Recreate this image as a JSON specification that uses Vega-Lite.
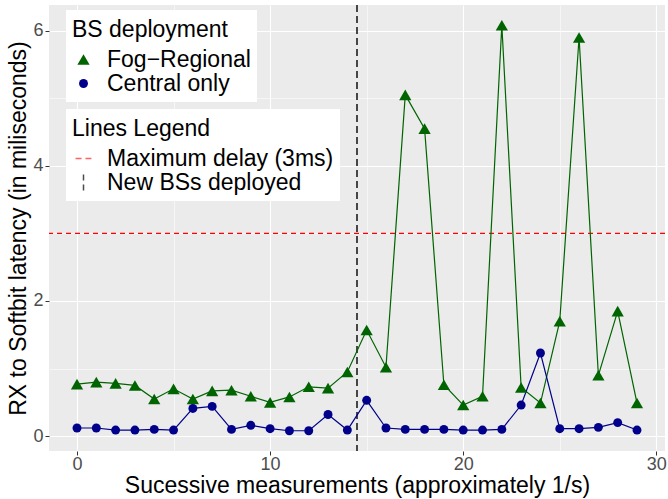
{
  "$schema": "https://vega.github.io/schema/vega-lite/v6.json",
  "width": 616,
  "height": 446,
  "autosize": {"type": "none"},
  "padding": {"left": 49, "top": 5, "right": 3, "bottom": 48},
  "background": "white",
  "config": {
    "view": {"fill": "#EBEBEB", "stroke": null},
    "font": "Liberation Sans",
    "axis": {
      "domain": false,
      "gridColor": "white",
      "tickColor": "#333333",
      "tickSize": 4,
      "labelColor": "#4D4D4D",
      "labelFontSize": 18,
      "labelFont": "Liberation Sans",
      "titleFont": "Liberation Sans",
      "titleFontSize": 23,
      "titleFontWeight": "normal",
      "titleColor": "black"
    },
    "legend": {
      "titleFont": "Liberation Sans",
      "labelFont": "Liberation Sans",
      "titleFontSize": 23,
      "labelFontSize": 23,
      "titleFontWeight": "normal",
      "titleColor": "black",
      "labelColor": "black",
      "fillColor": "white",
      "padding": 6,
      "titlePadding": 9,
      "titleBaseline": "line-top",
      "titleLineHeight": 29,
      "rowPadding": -6,
      "labelOffset": 12,
      "labelLimit": 500,
      "titleLimit": 500
    }
  },
  "datasets": {
    "series": [
      {"x": 0, "y": 0.77, "series": "Fog−Regional"},
      {"x": 1, "y": 0.8, "series": "Fog−Regional"},
      {"x": 2, "y": 0.78, "series": "Fog−Regional"},
      {"x": 3, "y": 0.75, "series": "Fog−Regional"},
      {"x": 4, "y": 0.55, "series": "Fog−Regional"},
      {"x": 5, "y": 0.7, "series": "Fog−Regional"},
      {"x": 6, "y": 0.55, "series": "Fog−Regional"},
      {"x": 7, "y": 0.67, "series": "Fog−Regional"},
      {"x": 8, "y": 0.68, "series": "Fog−Regional"},
      {"x": 9, "y": 0.59, "series": "Fog−Regional"},
      {"x": 10, "y": 0.5, "series": "Fog−Regional"},
      {"x": 11, "y": 0.58, "series": "Fog−Regional"},
      {"x": 12, "y": 0.73, "series": "Fog−Regional"},
      {"x": 13, "y": 0.71, "series": "Fog−Regional"},
      {"x": 14, "y": 0.95, "series": "Fog−Regional"},
      {"x": 15, "y": 1.57, "series": "Fog−Regional"},
      {"x": 16, "y": 1.02, "series": "Fog−Regional"},
      {"x": 17, "y": 5.05, "series": "Fog−Regional"},
      {"x": 18, "y": 4.55, "series": "Fog−Regional"},
      {"x": 19, "y": 0.76, "series": "Fog−Regional"},
      {"x": 20, "y": 0.46, "series": "Fog−Regional"},
      {"x": 21, "y": 0.59, "series": "Fog−Regional"},
      {"x": 22, "y": 6.08, "series": "Fog−Regional"},
      {"x": 23, "y": 0.72, "series": "Fog−Regional"},
      {"x": 24, "y": 0.49, "series": "Fog−Regional"},
      {"x": 25, "y": 1.7, "series": "Fog−Regional"},
      {"x": 26, "y": 5.9, "series": "Fog−Regional"},
      {"x": 27, "y": 0.9, "series": "Fog−Regional"},
      {"x": 28, "y": 1.85, "series": "Fog−Regional"},
      {"x": 29, "y": 0.49, "series": "Fog−Regional"},
      {"x": 0, "y": 0.12, "series": "Central only"},
      {"x": 1, "y": 0.12, "series": "Central only"},
      {"x": 2, "y": 0.09, "series": "Central only"},
      {"x": 3, "y": 0.09, "series": "Central only"},
      {"x": 4, "y": 0.1, "series": "Central only"},
      {"x": 5, "y": 0.09, "series": "Central only"},
      {"x": 6, "y": 0.41, "series": "Central only"},
      {"x": 7, "y": 0.44, "series": "Central only"},
      {"x": 8, "y": 0.1, "series": "Central only"},
      {"x": 9, "y": 0.16, "series": "Central only"},
      {"x": 10, "y": 0.11, "series": "Central only"},
      {"x": 11, "y": 0.08, "series": "Central only"},
      {"x": 12, "y": 0.08, "series": "Central only"},
      {"x": 13, "y": 0.32, "series": "Central only"},
      {"x": 14, "y": 0.09, "series": "Central only"},
      {"x": 15, "y": 0.53, "series": "Central only"},
      {"x": 16, "y": 0.12, "series": "Central only"},
      {"x": 17, "y": 0.1, "series": "Central only"},
      {"x": 18, "y": 0.1, "series": "Central only"},
      {"x": 19, "y": 0.1, "series": "Central only"},
      {"x": 20, "y": 0.09, "series": "Central only"},
      {"x": 21, "y": 0.09, "series": "Central only"},
      {"x": 22, "y": 0.1, "series": "Central only"},
      {"x": 23, "y": 0.46, "series": "Central only"},
      {"x": 24, "y": 1.23, "series": "Central only"},
      {"x": 25, "y": 0.11, "series": "Central only"},
      {"x": 26, "y": 0.11, "series": "Central only"},
      {"x": 27, "y": 0.13, "series": "Central only"},
      {"x": 28, "y": 0.2, "series": "Central only"},
      {"x": 29, "y": 0.09, "series": "Central only"}
    ],
    "hline": [{"label": "Maximum delay (3ms)", "value": 3}],
    "vline": [{"label": "New BSs deployed", "value": 14.5}],
    "lineslegend": [
      {"label": "Maximum delay (3ms)", "x": null, "y": null},
      {"label": "New BSs deployed", "x": null, "y": null}
    ]
  },
  "resolve": {"scale": {"shape": "independent", "color": "independent", "size": "independent"}},
  "layer": [
    {
      "data": {"name": "hline"},
      "mark": {"type": "rule", "color": "#FF0000", "strokeWidth": 1.2, "strokeDash": [5, 4]},
      "encoding": {
        "y": {"field": "value", "type": "quantitative", "scale": {"domain": [-0.22, 6.38], "nice": false, "zero": false}}
      }
    },
    {
      "data": {"name": "vline"},
      "mark": {"type": "rule", "color": "black", "strokeWidth": 1.4, "strokeDash": [7, 4]},
      "encoding": {
        "x": {"field": "value", "type": "quantitative", "scale": {"domain": [-1.45, 30.45], "nice": false, "zero": false}}
      }
    },
    {
      "data": {"name": "series"},
      "mark": {"type": "line", "strokeWidth": 1.2},
      "encoding": {
        "x": {
          "field": "x", "type": "quantitative",
          "scale": {"domain": [-1.45, 30.45], "nice": false, "zero": false},
          "title": "Sucessive measurements (approximately 1/s)",
          "axis": {
            "values": [0, 5, 10, 15, 20, 25, 30],
            "format": "d",
            "labelExpr": "datum.value % 10 === 0 ? datum.label : ''",
            "gridWidth": {"condition": {"test": "datum.value % 10 === 0", "value": 1.1}, "value": 0.55},
            "tickOpacity": {"condition": {"test": "datum.value % 10 === 0", "value": 1}, "value": 0},
            "labelPadding": 0,
            "titlePadding": 1
          }
        },
        "y": {
          "field": "y", "type": "quantitative",
          "scale": {"domain": [-0.22, 6.38], "nice": false, "zero": false},
          "title": "RX to Softbit latency (in miliseconds)",
          "axis": {
            "values": [0, 1, 2, 3, 4, 5, 6],
            "format": "d",
            "labelExpr": "datum.value % 2 === 0 ? datum.label : ''",
            "gridWidth": {"condition": {"test": "datum.value % 2 === 0", "value": 1.1}, "value": 0.55},
            "tickOpacity": {"condition": {"test": "datum.value % 2 === 0", "value": 1}, "value": 0},
            "labelPadding": 2,
            "titlePadding": 2
          }
        },
        "color": {
          "field": "series", "type": "nominal",
          "scale": {"domain": ["Fog−Regional", "Central only"], "range": ["#006400", "#00008B"]},
          "legend": null
        }
      }
    },
    {
      "data": {"name": "series"},
      "mark": {"type": "point", "filled": true, "opacity": 1},
      "encoding": {
        "x": {"field": "x", "type": "quantitative"},
        "y": {"field": "y", "type": "quantitative"},
        "size": {
          "field": "series", "type": "nominal",
          "scale": {"domain": ["Fog−Regional", "Central only"], "range": [150, 80]},
          "legend": null
        },
        "color": {
          "field": "series", "type": "nominal",
          "scale": {"domain": ["Fog−Regional", "Central only"], "range": ["#006400", "#00008B"]},
          "title": "BS deployment",
          "legend": {"orient": "none", "legendX": 17, "legendY": 5, "symbolSize": 65}
        },
        "shape": {
          "field": "series", "type": "nominal",
          "scale": {"domain": ["Fog−Regional", "Central only"], "range": ["triangle-up", "circle"]},
          "title": "BS deployment",
          "legend": {"orient": "none", "legendX": 17, "legendY": 5, "symbolSize": 65}
        }
      }
    },
    {
      "data": {"name": "lineslegend"},
      "mark": {"type": "point", "filled": false, "strokeWidth": 1.5, "size": 250},
      "encoding": {
        "x": {"field": "x", "type": "quantitative"},
        "y": {"field": "y", "type": "quantitative"},
        "color": {
          "field": "label", "type": "nominal",
          "scale": {"domain": ["Maximum delay (3ms)", "New BSs deployed"], "range": ["#FF2020", "black"]},
          "title": "Lines Legend",
          "legend": {"orient": "none", "legendX": 17, "legendY": 104, "symbolSize": 250, "symbolStrokeWidth": 1.5}
        },
        "shape": {
          "field": "label", "type": "nominal",
          "scale": {"domain": ["Maximum delay (3ms)", "New BSs deployed"], "range": ["M-1,0H-0.25M0.25,0H1", "M0,-1V-0.25M0,0.25V1"]},
          "title": "Lines Legend",
          "legend": {"orient": "none", "legendX": 17, "legendY": 104, "symbolSize": 250, "symbolStrokeWidth": 1.5}
        }
      }
    }
  ]
}
